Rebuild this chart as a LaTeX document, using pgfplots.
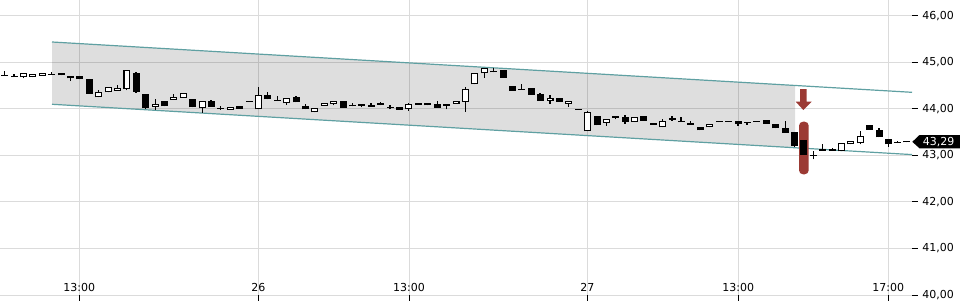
\documentclass[border=0pt]{standalone}
\usepackage{pgfplots}
\pgfplotsset{compat=1.18}
\usepackage{pgfplotstable}
\usepackage{fontspec}
\setmainfont{DejaVu Sans}
\definecolor{chan}{RGB}{95,160,162}
\definecolor{markred}{RGB}{155,58,52}

% down (black) candles: x open high low close
\pgfplotstableread{
x o h l c
4.3 44.730 44.819 44.709 44.709
14 44.700 44.737 44.679 44.679
51.7 44.752 44.791 44.730 44.730
61.3 44.769 44.769 44.720 44.720
70.3 44.705 44.705 44.597 44.655
79.3 44.705 44.705 44.634 44.634
89.3 44.640 44.640 44.324 44.324
136 44.763 44.791 44.346 44.367
145.7 44.318 44.318 43.996 44.024
164.3 44.174 44.174 44.054 44.054
192.3 44.211 44.211 44.032 44.032
211 44.168 44.189 44.045 44.045
220.3 44.022 44.060 43.981 44.000
239.3 44.060 44.060 44.002 44.002
249 44.178 44.178 44.157 44.157
267.3 44.290 44.361 44.204 44.204
277.3 44.185 44.282 44.163 44.163
296 44.247 44.275 44.140 44.140
305.3 44.067 44.097 43.989 43.989
343 44.168 44.168 44.024 44.024
352.3 44.088 44.131 44.054 44.054
361.3 44.097 44.097 44.032 44.060
371 44.071 44.131 44.049 44.049
380.3 44.125 44.146 44.075 44.088
390 44.034 44.082 43.989 44.013
399.3 44.032 44.032 43.981 43.981
418.3 44.125 44.125 44.082 44.082
427.3 44.125 44.125 44.075 44.075
437.3 44.097 44.174 44.024 44.024
446.3 44.097 44.097 43.989 44.060
493.3 44.812 44.870 44.784 44.784
503.3 44.834 44.834 44.668 44.668
512.3 44.490 44.490 44.389 44.389
521.3 44.432 44.533 44.410 44.410
531 44.440 44.440 44.303 44.303
540 44.318 44.346 44.174 44.174
559.3 44.232 44.232 44.153 44.153
578 44.000 44.000 43.979 43.979
597 43.845 43.845 43.646 43.646
615.3 43.835 43.835 43.770 43.802
625 43.817 43.860 43.674 43.723
643.7 43.845 43.845 43.738 43.738
653.3 43.695 43.695 43.659 43.659
672 43.802 43.839 43.744 43.766
681 43.744 43.817 43.716 43.716
690.7 43.695 43.731 43.659 43.659
700 43.603 43.603 43.538 43.538
719 43.738 43.738 43.716 43.716
728.3 43.744 43.744 43.723 43.723
738 43.731 43.731 43.637 43.674
747 43.712 43.712 43.659 43.691
756.7 43.744 43.744 43.723 43.723
766 43.753 43.753 43.680 43.680
775.3 43.667 43.667 43.581 43.581
785.3 43.581 43.738 43.487 43.487
794.3 43.502 43.502 43.186 43.207
803.3 43.330 43.330 43.014 43.014
813.3 43.018 43.087 42.915 42.997
822.3 43.136 43.250 43.100 43.100
832.3 43.136 43.164 43.100 43.100
869.3 43.652 43.652 43.551 43.551
879 43.545 43.588 43.388 43.388
888.3 43.351 43.351 43.186 43.237
897.3 43.283 43.302 43.261 43.261
906.7 43.300 43.300 43.278 43.278
}\downc

% up (white) candles: x open high low close
\pgfplotstableread{
x o h l c
23.3 44.677 44.763 44.655 44.763
32.3 44.691 44.756 44.677 44.756
42.3 44.709 44.774 44.709 44.774
98.3 44.247 44.404 44.247 44.361
108.3 44.355 44.462 44.355 44.462
117.3 44.392 44.511 44.392 44.457
126.7 44.432 44.827 44.397 44.827
155.3 44.039 44.204 43.974 44.103
173.3 44.189 44.312 44.189 44.260
183.3 44.232 44.333 44.232 44.333
202.3 44.011 44.161 43.916 44.161
230.3 43.978 44.043 43.978 44.043
258.3 43.989 44.462 43.989 44.290
286.3 44.118 44.232 44.088 44.232
314.3 43.925 44.011 43.925 44.011
324.3 44.060 44.131 44.060 44.131
333.3 44.107 44.172 44.075 44.172
408.3 43.989 44.118 43.959 44.097
456 44.110 44.174 44.110 44.174
465.3 44.153 44.475 43.938 44.419
474.3 44.526 44.763 44.526 44.763
484.3 44.763 44.870 44.668 44.870
550 44.171 44.297 44.103 44.236
568.3 44.104 44.169 44.045 44.169
587.3 43.517 43.959 43.517 43.925
606.3 43.695 43.774 43.641 43.774
634.3 43.716 43.830 43.716 43.830
662.3 43.603 43.781 43.603 43.738
709.3 43.601 43.666 43.601 43.666
841.3 43.087 43.265 43.087 43.265
850.3 43.237 43.308 43.237 43.308
860.3 43.259 43.530 43.237 43.409
}\upc

\pgfplotsset{
  candlepart/.style={only marks, mark size=0pt,
    mark options={draw opacity=0, fill opacity=0}, forget plot,
    error bars/.cd, y dir=plus, y explicit, error mark=none},
}

\begin{document}
\begin{tikzpicture}
\begin{axis}[
  at={(0pt,3.75pt)}, anchor=south west,
  scale only axis, width=684pt, height=221.25pt,
  xmin=0, xmax=912, ymin=40, ymax=46.337,
  clip=false,
  axis line style={draw=none},
  xtick={79.3,258.3,409,587.3,738.3,888.3},
  xticklabels={13:00,26,13:00,27,13:00,17:00},
  ytick={40,41,42,43,44,45,46},
  yticklabels={{40,00},{41,00},{42,00},{43,00},{44,00},{45,00},{46,00}},
  xtick pos=bottom, ytick pos=right, yticklabel pos=right,
  tick align=outside, major tick length=4.2pt,
  tick style={black, line width=0.75pt},
  grid=major, grid style={black!14, line width=0.75pt},
  ticklabel style={font=\fontsize{8.25pt}{10pt}\selectfont},
  xticklabel style={anchor=base, yshift=7pt},
  yticklabel style={anchor=west, xshift=0pt},
]
% channel
\addplot[draw=none, fill=black, fill opacity=0.13, forget plot]
  coordinates {(52,45.435) (795,44.501) (795,43.162) (52,44.097)} -- cycle;
\addplot[chan, line width=0.9pt, forget plot] coordinates {(52,45.435) (912,44.354)};
\addplot[chan, line width=0.9pt, forget plot] coordinates {(52,44.097) (912,43.016)};
% highlight
\fill[markred, rounded corners=3pt] (axis cs:799,43.723) rectangle (axis cs:808.7,42.593);
\fill[markred] (axis cs:800,44.425) -- (axis cs:806.7,44.425) -- (axis cs:806.7,44.153)
  -- (axis cs:811.7,44.153) -- (axis cs:803.3,43.974) -- (axis cs:795.7,44.153)
  -- (axis cs:800,44.153) -- cycle;
% wicks
\addplot[candlepart, error bar style={black, line width=0.9pt}]
  table[x=x, y=l, y error plus expr=\thisrow{h}-\thisrow{l}] {\downc};
\addplot[candlepart, error bar style={black, line width=0.9pt}]
  table[x=x, y=l, y error plus expr=\thisrow{h}-\thisrow{l}] {\upc};
% bodies
\addplot[candlepart, error bar style={black, line width=5.25pt}]
  table[x=x, y=c, y error plus expr=\thisrow{o}-\thisrow{c}] {\downc};
\addplot[candlepart, error bar style={black, line width=5.25pt}]
  table[x=x, y=o, y error plus expr=\thisrow{c}-\thisrow{o}] {\upc};
\addplot[candlepart, error bar style={white, line width=3.3pt}]
  table[x=x, y expr=\thisrow{o}+0.0215, y error plus expr=\thisrow{c}-\thisrow{o}-0.043] {\upc};
% last price label
\fill[black] (axis cs:912.3,43.29) -- (axis cs:919.5,43.437) -- (axis cs:970,43.437)
  -- (axis cs:970,43.152) -- (axis cs:919.5,43.152) -- cycle;
\node[white, font=\fontsize{8.25pt}{10pt}\selectfont, anchor=center] at (axis cs:938.5,43.29) {43,29};
\end{axis}
\pgfresetboundingbox
\useasboundingbox (0,0) rectangle (720pt,225pt);
\end{tikzpicture}
\end{document}
